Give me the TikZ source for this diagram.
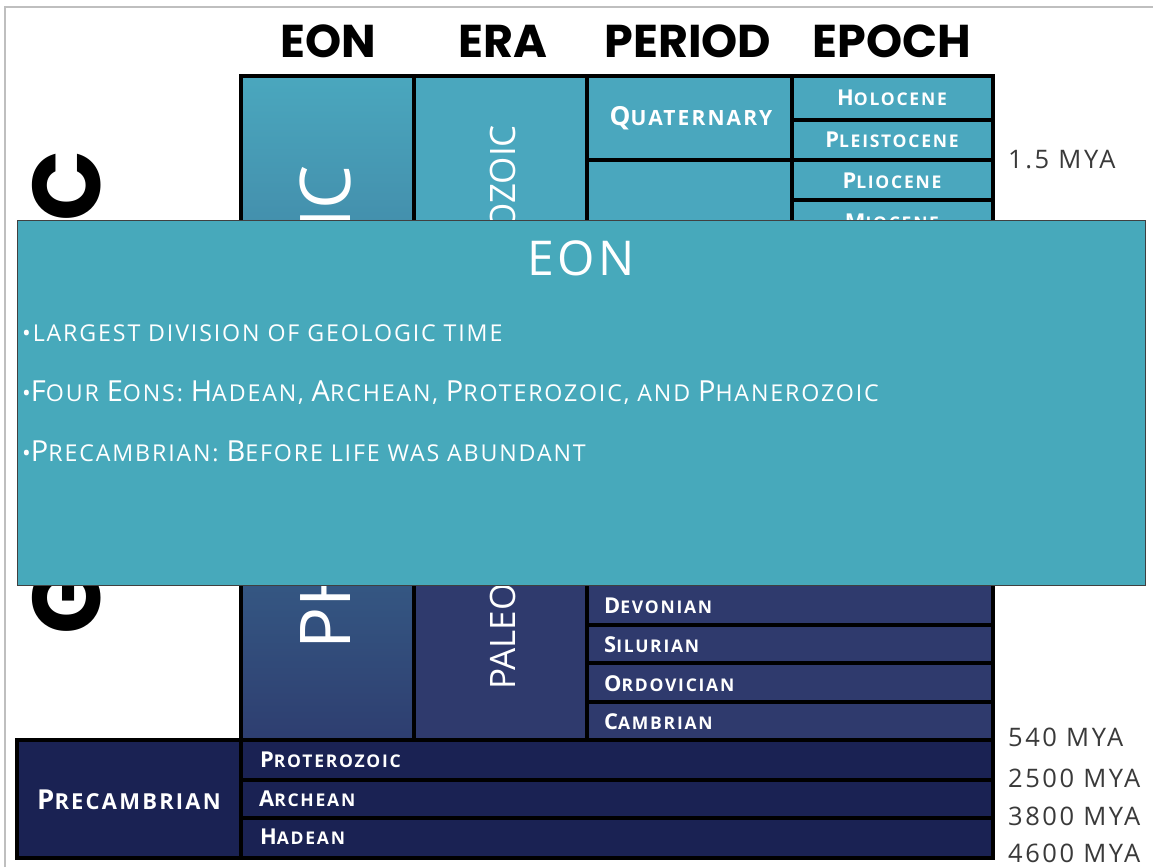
\documentclass[tikz,border=0pt]{standalone}
\usepackage{fontspec}
\usepackage{graphicx}
\setmainfont{Open Sans}
\newfontfamily\headfont{Poppins}
\newfontfamily\scfont{Open Sans}[LetterSpace=10]
\newfontfamily\txtfont{Open Sans}[LetterSpace=8]
\newfontfamily\plainfont{Open Sans}
\newcommand\K[1]{\scalebox{1.25}{#1}}
\definecolor{tealA}{HTML}{4AA7BE}
\definecolor{phanBot}{HTML}{2E3E70}
\definecolor{paleo}{HTML}{2F3A6D}
\definecolor{precam}{HTML}{1A2253}
\definecolor{overlay}{HTML}{47A9BB}
\definecolor{mya}{HTML}{3A3A3A}
\begin{document}
\begin{tikzpicture}[x=1pt,y=-1pt,
  cell/.style={draw=black,line width=3.2pt},
  head/.style={font=\headfont\bfseries\fontsize{46}{46}\selectfont,anchor=base,inner sep=0pt},
  lbl/.style={text=white,font=\scfont\bfseries\fontsize{17.5}{17.5}\selectfont,inner sep=0pt},
  big/.style={text=white,inner sep=0pt,rotate=90},
  myalbl/.style={text=mya,font=\scfont\fontsize{25.5}{25.5}\selectfont,anchor=base west,inner sep=0pt},
  bullet/.style={text=white,font=\txtfont\fontsize{23.2}{23.2}\selectfont,anchor=base west,inner sep=0pt}]
\useasboundingbox (0,0) rectangle (1153,867);
\fill[white] (0,0) rectangle (1153,867);
\draw[black!25,line width=1.5pt] (5,867) -- (5,7) -- (1153,7);

% headers
\node[head] (hEon) at (328,58) {EON};
\node[head] (hEra) at (503,58) {ERA};
\node[head] (hPer) at (688,58) {PERIOD};
\node[head] (hEpo) at (892,58) {EPOCH};

% big left word
\node[rotate=90,anchor=base east,inner sep=0pt,font=\headfont\bfseries\fontsize{96}{96}\selectfont] (geo) at (100,150) {\scalebox{0.975}[1]{GEOLOGIC}};

% fills
\fill[top color=tealA,bottom color=phanBot] (241,76) rectangle (414,740);
\foreach \a/\b/\c/\d/\col in {414/76/587/400/tealA, 414/400/587/740/paleo,
  587/76/792/160/tealA, 587/160/792/400/tealA,
  792/76/993/120/tealA, 792/120/993/160/tealA, 792/160/993/200/tealA, 792/200/993/240/tealA,
  587/560/993/625/paleo, 587/625/993/663/paleo, 587/663/993/702/paleo, 587/702/993/740/paleo,
  17/740/241/858/precam, 241/740/993/780/precam, 241/780/993/818/precam, 241/818/993/858/precam}
  \fill[\col] (\a,\b) rectangle (\c,\d);
% borders
\foreach \a/\b/\c/\d in {241/76/414/740, 414/76/587/400, 414/400/587/740,
  587/76/792/160, 587/160/792/400,
  792/76/993/120, 792/120/993/160, 792/160/993/200, 792/200/993/240,
  587/560/993/625, 587/625/993/663, 587/663/993/702, 587/702/993/740,
  17/740/241/858, 241/740/993/780, 241/780/993/818, 241/818/993/858}
  \draw[cell] (\a,\b) rectangle (\c,\d);

% rotated names
\node[big,anchor=base east,font=\plainfont\fontsize{70}{70}\selectfont] (phan) at (350,165) {PHANEROZOIC};
\node[big,anchor=base east,font=\plainfont\fontsize{35}{35}\selectfont] (ceno) at (515,125) {CENOZOIC};
\node[big,anchor=base west,font=\plainfont\fontsize{35}{35}\selectfont] (paleoz) at (515,690) {PALEOZOIC};

% period / epoch labels
\node[lbl,font=\scfont\bfseries\fontsize{21}{21}\selectfont] (quat) at (691,118) {\K{Q}UATERNARY};
\node[lbl] (holo) at (892,98) {\K{H}OLOCENE};
\node[lbl] (pleis) at (892,140) {\K{P}LEISTOCENE};
\node[lbl] (plio) at (892,181) {\K{P}LIOCENE};
\node[lbl] (mio) at (892,222) {\K{M}IOCENE};

\node[lbl,anchor=west] (dev) at (604,606) {\K{D}EVONIAN};
\node[lbl,anchor=west] (sil) at (604,645) {\K{S}ILURIAN};
\node[lbl,anchor=west] (ord) at (604,684) {\K{O}RDOVICIAN};
\node[lbl,anchor=west] (cam) at (604,722) {\K{C}AMBRIAN};

\node[lbl,font=\scfont\bfseries\fontsize{22}{22}\selectfont] (pre) at (129,800) {\K{P}RECAMBRIAN};
\node[lbl,anchor=west] (prot) at (260,760) {\K{P}ROTEROZOIC};
\node[lbl,anchor=west] (arch) at (259,799) {\K{A}RCHEAN};
\node[lbl,anchor=west] (had) at (260,837) {\K{H}ADEAN};

% ages
\node[myalbl] (m1) at (1008,168) {1.5 MYA};
\node[myalbl] (m2) at (1008,746) {540 MYA};
\node[myalbl] (m3) at (1008,787) {2500 MYA};
\node[myalbl] (m4) at (1008,825) {3800 MYA};
\node[myalbl] (m5) at (1008,862) {4600 MYA};

% overlay card
\draw[fill=overlay,draw=black!75,line width=0.8pt] (17,220) rectangle (1145,585);
\node[text=white,font=\txtfont\fontsize{48}{48}\selectfont,anchor=base,inner sep=0pt] (title) at (581,275) {EON};
\node[bullet] (b1) at (22,341) {•LARGEST DIVISION OF GEOLOGIC TIME};
\node[bullet] (b2) at (22,401) {•\K{F}OUR \K{E}ONS: \K{H}ADEAN, \K{A}RCHEAN, \K{P}ROTEROZOIC, AND \K{P}HANEROZOIC};
\node[bullet] (b3) at (22,461) {•\K{P}RECAMBRIAN: \K{B}EFORE LIFE WAS ABUNDANT};
\end{tikzpicture}
\end{document}
